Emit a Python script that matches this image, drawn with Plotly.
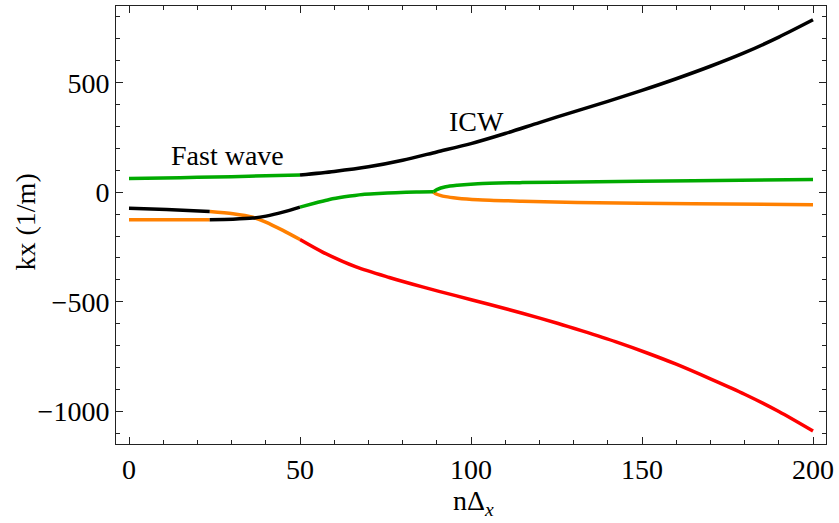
import plotly.graph_objects as go

GREEN = "rgb(0,170,0)"
ORANGE = "rgb(255,128,0)"
RED = "rgb(255,0,0)"
BLACK = "rgb(0,0,0)"

# Branch 1 (top): fast wave -> ICW
b1_green_x = [0, 10, 20, 30, 40, 50]
b1_green_y = [63, 65, 68, 71, 75, 79]
b1_black_x = [50, 60, 70, 80, 90, 100, 110, 120, 130, 140, 150, 160, 170, 180, 190, 200]
b1_black_y = [79, 95, 116, 146, 184, 222, 268, 318, 367, 415, 465, 518, 575, 637, 708, 787]

# Branch 2: black -> orange -> red
b2_black_x = [0, 11, 23.6]
b2_black_y = [-73, -79, -88]
b2_orange_x = [23.6, 30.4, 36.2, 40, 45, 50]
b2_orange_y = [-88, -98, -114, -136, -174, -216]
b2_red_x = [50, 56.6, 66.4, 76.1, 85.8, 95.5, 105.2, 115, 125.5, 132.5, 142.2, 151.9, 160, 170, 180, 190, 200]
b2_red_y = [-216, -273, -341, -389, -432, -472, -511, -552, -599, -633, -682, -736, -785, -852, -922, -1001, -1090]

# Branch 3: orange -> black -> green
b3_orange_x = [0, 12, 23.6]
b3_orange_y = [-125, -125, -125]
b3_black_x = [23.6, 30.4, 36.2, 40.1, 45, 50]
b3_black_y = [-125, -123, -118, -109, -91, -68]
b3_green_x = [50, 55, 58.6, 63, 68.3, 73, 78, 84, 89]
b3_green_y = [-68, -47, -33, -21, -10, -6, -2, 1, 2]

# Split after x ~ 89
up_green_x = [89, 90, 92.6, 96, 102, 115, 131, 165, 200]
up_green_y = [2, 12, 25, 32, 39, 44, 47, 53, 58]
dn_orange_x = [89, 90, 92.6, 96, 102, 115, 131, 165, 200]
dn_orange_y = [2, -9, -20, -27, -34, -41, -47, -52, -57]

segments = [
    (dn_orange_x, dn_orange_y, ORANGE),
    (b3_orange_x, b3_orange_y, ORANGE),
    (b2_orange_x, b2_orange_y, ORANGE),
    (b2_black_x, b2_black_y, BLACK),
    (b3_black_x, b3_black_y, BLACK),
    (b2_red_x, b2_red_y, RED),
    (b1_green_x, b1_green_y, GREEN),
    (b1_black_x, b1_black_y, BLACK),
    (b3_green_x, b3_green_y, GREEN),
    (up_green_x, up_green_y, GREEN),
]

fig = go.Figure()
for xs, ys, c in segments:
    fig.add_trace(go.Scatter(x=xs, y=ys, mode="lines",
                             line=dict(color=c, width=3.5, shape="spline", smoothing=0.8),
                             showlegend=False, hoverinfo="skip"))

FONT = "Liberation Serif, Times New Roman, serif"
axis_common = dict(
    showline=True, linecolor="#222", linewidth=1, mirror="allticks",
    ticks="inside", ticklen=7, tickwidth=1, tickcolor="#222",
    showgrid=False, zeroline=False,
    tickfont=dict(family=FONT, size=28, color="black"),
)

fig.update_layout(
    width=839, height=523,
    margin=dict(l=116, r=11, t=5, b=79),
    paper_bgcolor="white", plot_bgcolor="white",
    xaxis=dict(range=[-3.8, 203.8], tickvals=[0, 50, 100, 150, 200],
               minor=dict(dtick=10, tick0=0, ticks="inside", ticklen=4, tickcolor="#222"),
               **axis_common),
    yaxis=dict(range=[-1149, 850], tickvals=[-1000, -500, 0, 500],
               ticktext=["\u22121000", "\u2212500", "0", "500"],
               minor=dict(dtick=100, tick0=0, ticks="inside", ticklen=4, tickcolor="#222"),
               **axis_common),
    annotations=[
        dict(x=28.9, y=167, text="Fast wave", showarrow=False,
             font=dict(family=FONT, size=28, color="black")),
        dict(x=101.7, y=321, text="ICW", showarrow=False,
             font=dict(family=FONT, size=28, color="black")),
        dict(xref="paper", yref="paper", x=0.504, y=-0.134, text="nΔ<sub><i>x</i></sub>",
             showarrow=False, xanchor="center", yanchor="middle",
             font=dict(family=FONT, size=28, color="black")),
        dict(xref="paper", yref="paper", x=-0.128, y=0.506, text="kx (1/m)", textangle=-90,
             showarrow=False, xanchor="center", yanchor="middle",
             font=dict(family=FONT, size=28, color="black")),
    ],
)

fig.write_html("out.html")
